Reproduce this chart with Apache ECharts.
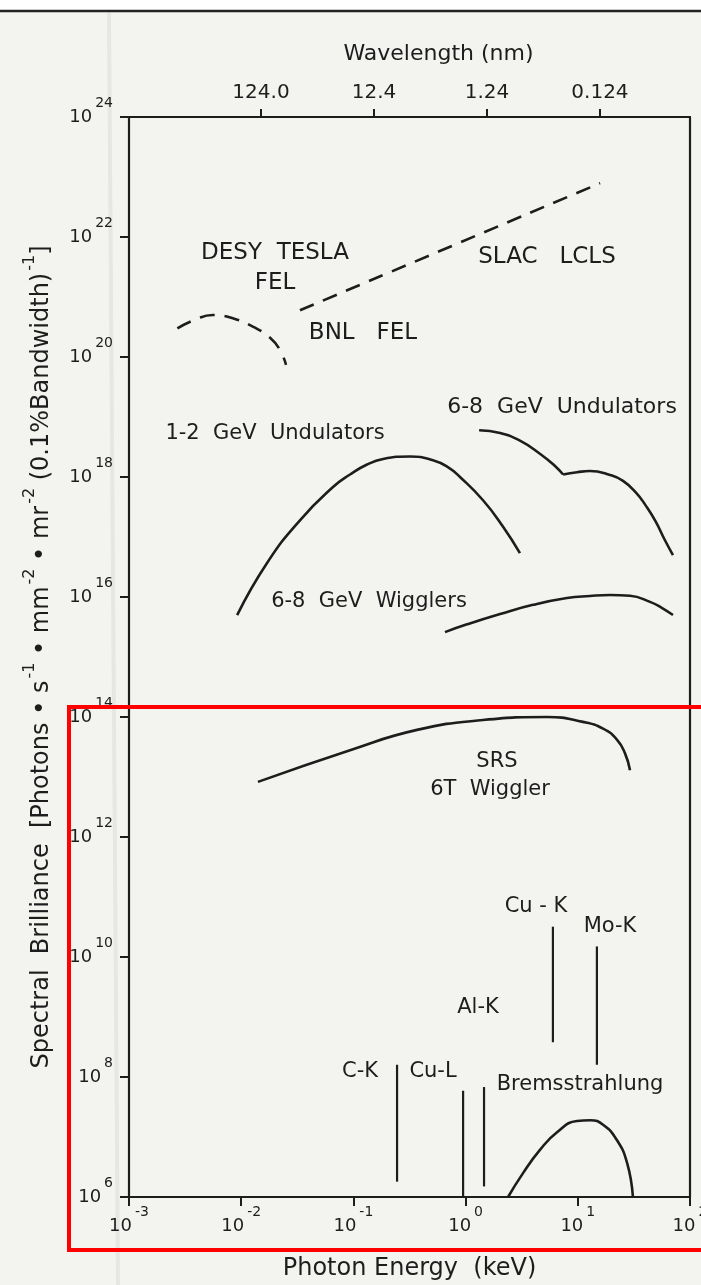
<!DOCTYPE html>
<html>
<head>
<meta charset="utf-8">
<script src="https://cdn.jsdelivr.net/npm/echarts@6/dist/echarts.min.js"></script>
<style>
  html, body { margin: 0; padding: 0; background: #f3f4f0; }
  #chart { width: 701px; height: 1285px; }
</style>
</head>
<body>
<div id="chart"></div>
<script>
// Photon energy in keV, spectral brilliance in photons s^-1 mm^-2 mrad^-2 (0.1% bandwidth)^-1

// Free-electron lasers (dashed)
const desyTeslaEnergy     = [0.0027, 0.0039, 0.0056, 0.0088, 0.0127, 0.0181, 0.0222, 0.0251];
const desyTeslaBrilliance = [3.0e20, 4.2e20, 5.0e20, 4.3e20, 3.2e20, 2.1e20, 1.3e20, 7.4e19];

const lclsEnergy     = [0.0334, 15.8];
const lclsBrilliance = [6.0e20, 7.9e22];

// Storage ring undulators and wigglers
const und12Energy     = [0.0092, 0.0170, 0.0334, 0.0658, 0.0933, 0.131, 0.184, 0.319, 0.512, 0.70, 0.891, 1.43, 2.15, 3.05];
const und12Brilliance = [5.0e15, 3.7e16, 1.9e17, 6.8e17, 1.1e18, 1.6e18, 2.0e18, 2.2e18, 1.9e18, 1.45e18, 1.0e18, 4.1e17, 1.5e17, 5.4e16];

const und68FirstEnergy     = [1.32, 2.03, 3.08, 4.66, 6.33, 7.4];
const und68FirstBrilliance = [6.0e18, 5.4e18, 4.0e18, 2.4e18, 1.5e18, 1.1e18];
const und68ThirdEnergy     = [7.4, 9.84, 12.8, 19.4, 25.3, 33.0, 40.5, 49.5, 59.5, 70.5];
const und68ThirdBrilliance = [1.1e18, 1.2e18, 1.26e18, 1.08e18, 8.6e17, 5.5e17, 3.3e17, 1.8e17, 9.0e16, 5.0e16];

const wig68Energy     = [0.655, 1.03, 2.03, 3.99, 8.0, 12.8, 19.4, 29.2, 44.0, 56.0, 70.5];
const wig68Brilliance = [2.6e15, 3.5e15, 5.2e15, 7.4e15, 9.6e15, 1.04e16, 1.08e16, 1.05e16, 8.3e15, 6.6e15, 5.0e15];

const srsEnergy     = [0.0141, 0.0933, 0.369, 1.43, 5.31, 11.1, 16.8, 22.3, 26.3, 29.2];
const srsBrilliance = [8.3e12, 2.8e13, 6.1e13, 8.9e13, 1.0e14, 8.3e13, 6.4e13, 4.2e13, 2.5e13, 1.3e13];

// X-ray tube: bremsstrahlung continuum and characteristic lines
const bremsEnergy     = [2.39, 3.25, 4.6, 6.53, 9.84, 12.9, 16.8, 22.3, 27.5, 31.0];
const bremsBrilliance = [1.0e6, 2.5e6, 6.1e6, 1.2e7, 1.85e7, 1.9e7, 1.6e7, 8.9e6, 3.7e6, 1.0e6];

const lineNames  = ['C-K', 'Cu-L', 'Al-K', 'Cu-K', 'Mo-K'];
const lineEnergy = [0.245, 0.95, 1.46, 6.0, 14.8];
const lineLow    = [1.8e6, 1.0e6, 1.5e6, 3.8e8, 1.6e8];
const lineHigh   = [1.6e8, 5.9e7, 6.8e7, 3.2e10, 1.5e10];

// Axis ticks
const energyRange      = [0.001, 100];
const energyTicks      = [0.001, 0.01, 0.1, 1, 10, 100];
const wavelengthRange  = [0.0198, 1826];          // nm, right and left ends of the top scale
const wavelengthTicks  = [124, 12.4, 1.24, 0.124];
const wavelengthLabels = ['124.0', '12.4', '1.24', '0.124'];
const brillianceRange  = [1e6, 1e24];
const brillianceTicks  = [1e6, 1e8, 1e10, 1e12, 1e14, 1e16, 1e18, 1e20, 1e22, 1e24];

const INK = '#1d1d1d';
const FONT = '"DejaVu Sans", sans-serif';

// keep the end ticks inside the log extent despite rounding
function inside(ticks, range) {
  return ticks.map(v => v <= range[0] ? range[0] * (1 + 1e-9) : v >= range[1] ? range[1] * (1 - 1e-9) : v);
}

function pairs(xs, ys) { return xs.map((x, i) => [x, ys[i]]); }
function powerLabel(v) {
  const e = Math.round(Math.log10(v));
  return '{b|10}{s|' + e + '}';
}
const powerRich = {
  b: { fontSize: 18, fontFamily: FONT, color: INK, lineHeight: 30, verticalAlign: 'bottom' },
  s: { fontSize: 14, fontFamily: FONT, color: INK, verticalAlign: 'top', padding: [0, 0, 0, 3] }
};

function curve(name, xs, ys, dashed) {
  return {
    name, type: 'line', data: pairs(xs, ys),
    smooth: 0.5, showSymbol: false, symbol: 'none', silent: true,
    lineStyle: { color: INK, width: 2.6, type: dashed ? [15, 10] : 'solid', cap: 'butt' },
    z: 3
  };
}

const series = [
  curve('DESY TESLA FEL', desyTeslaEnergy, desyTeslaBrilliance, true),
  curve('BNL FEL / SLAC LCLS', lclsEnergy, lclsBrilliance, true),
  curve('1-2 GeV Undulators', und12Energy, und12Brilliance, false),
  curve('6-8 GeV Undulators', und68FirstEnergy, und68FirstBrilliance, false),
  curve('6-8 GeV Undulators (high energy)', und68ThirdEnergy, und68ThirdBrilliance, false),
  curve('6-8 GeV Wigglers', wig68Energy, wig68Brilliance, false),
  curve('SRS 6T Wiggler', srsEnergy, srsBrilliance, false),
  curve('Bremsstrahlung', bremsEnergy, bremsBrilliance, false)
];
lineNames.forEach((n, i) => {
  series.push({
    name: n, type: 'line', silent: true, showSymbol: false, symbol: 'none',
    data: [[lineEnergy[i], lineLow[i]], [lineEnergy[i], lineHigh[i]]],
    lineStyle: { color: INK, width: 2.2 }, z: 3
  });
});

// Curve annotations, placed in chart pixels: [text, x, y, font size]
const notes = [
  ['DESY  TESLA', 275, 253, 23], ['FEL', 275, 283, 23], ['BNL   FEL', 363, 333, 23],
  ['SLAC   LCLS', 547, 257, 23], ['6-8  GeV  Undulators', 562, 407, 22],
  ['1-2  GeV  Undulators', 275, 434, 21], ['6-8  GeV  Wigglers', 369, 602, 21],
  ['SRS', 497, 762, 21], ['6T  Wiggler', 490, 790, 21],
  ['Cu - K', 536, 907, 21], ['Mo-K', 610, 927, 21], ['Al-K', 478, 1008, 21],
  ['C-K', 360, 1072, 21], ['Cu-L', 433, 1072, 21], ['Bremsstrahlung', 580, 1085, 21]
];

const graphic = [
  { type: 'rect', silent: true, z: 0, shape: { x: 0, y: 0, width: 701, height: 10 }, style: { fill: '#ffffff' } },
  { type: 'line', silent: true, z: 0, shape: { x1: 0, y1: 11, x2: 701, y2: 11 }, style: { stroke: '#222222', lineWidth: 2.5 } },
  // faint fold streak in the paper
  { type: 'line', silent: true, z: 0, shape: { x1: 109, y1: 12, x2: 118, y2: 1285 },
    style: { stroke: 'rgba(140,140,130,0.12)', lineWidth: 4 } },
  { type: 'rect', silent: true, z: 100, shape: { x: 69, y: 707, width: 650, height: 543 },
    style: { fill: 'none', stroke: '#ff0000', lineWidth: 4 } }
];
notes.forEach(([t, x, y, fs]) => graphic.push({
  type: 'text', silent: true, x, y, z: 10,
  style: { text: t, font: fs + 'px ' + FONT, fill: INK, align: 'center', verticalAlign: 'middle',
           textAlign: 'center', textVerticalAlign: 'middle' }
}));

const xTicks = inside(energyTicks, energyRange);
const yTicks = inside(brillianceTicks, brillianceRange);

const chart = echarts.init(document.getElementById('chart'), null, { renderer: 'canvas' });
chart.setOption({
  animation: false,
  backgroundColor: '#f3f4f0',
  grid: { left: 129, top: 117, width: 561, height: 1080, containLabel: false, outerBoundsMode: 'none' },
  xAxis: [
    {
      type: 'log', logBase: 10, min: energyRange[0], max: energyRange[1], position: 'bottom',
      axisLine: { lineStyle: { color: INK, width: 2.2 } },
      axisTick: { show: true, length: 9, lineStyle: { color: INK, width: 2 }, customValues: xTicks },
      minorTick: { show: false }, splitLine: { show: false }, minorSplitLine: { show: false },
      axisLabel: { customValues: xTicks, formatter: powerLabel, rich: powerRich, margin: 8, color: INK,
                   showMinLabel: true, showMaxLabel: true, hideOverlap: false },
      name: 'Photon Energy  (keV)', nameLocation: 'middle', nameGap: 60,
      nameTextStyle: { fontFamily: FONT, fontSize: 24, color: INK }
    },
    {
      type: 'log', logBase: 10, inverse: true, min: wavelengthRange[0], max: wavelengthRange[1], position: 'top',
      axisLine: { lineStyle: { color: INK, width: 2.2 } },
      axisTick: { show: true, length: 8, lineStyle: { color: INK, width: 2 }, customValues: wavelengthTicks },
      minorTick: { show: false }, splitLine: { show: false },
      axisLabel: {
        customValues: wavelengthTicks, margin: 14, color: INK, fontFamily: FONT, fontSize: 20,
        showMinLabel: true, showMaxLabel: true, hideOverlap: false,
        formatter: v => {
          const i = wavelengthTicks.findIndex(t => Math.abs(Math.log10(t) - Math.log10(v)) < 1e-6);
          return i >= 0 ? wavelengthLabels[i] : '';
        }
      },
      name: 'Wavelength (nm)', nameLocation: 'middle', nameGap: 52,
      nameTextStyle: { fontFamily: FONT, fontSize: 22, color: INK, padding: [0, 0, 0, 58] }
    }
  ],
  yAxis: [
    {
      type: 'log', logBase: 10, min: brillianceRange[0], max: brillianceRange[1], position: 'left',
      axisLine: { lineStyle: { color: INK, width: 2.2 } },
      axisTick: { show: true, length: 9, lineStyle: { color: INK, width: 2 }, customValues: yTicks },
      minorTick: { show: false }, splitLine: { show: false }, minorSplitLine: { show: false },
      axisLabel: { customValues: yTicks, formatter: powerLabel, rich: powerRich, margin: 16,
                   padding: [0, 0, 12, 0], color: INK, showMinLabel: true, showMaxLabel: true, hideOverlap: false },
      name: '{n|Spectral  Brilliance  [Photons • s}{u|-1}{n| • mm}{u|-2}{n| • mr}{u|-2}{n| (0.1%Bandwidth)}{u|-1}{n|]}',
      nameLocation: 'middle', nameRotate: 90, nameGap: 75,
      nameTextStyle: {
        color: INK,
        rich: {
          n: { fontFamily: FONT, fontSize: 24, color: INK, lineHeight: 32, verticalAlign: 'bottom' },
          u: { fontFamily: FONT, fontSize: 16, color: INK, verticalAlign: 'top', padding: [0, 0, 0, 2] }
        }
      }
    },
    {
      type: 'log', logBase: 10, min: brillianceRange[0], max: brillianceRange[1], position: 'right',
      axisLine: { show: true, lineStyle: { color: INK, width: 2.2 } },
      axisTick: { show: false }, axisLabel: { show: false },
      minorTick: { show: false }, splitLine: { show: false }
    }
  ],
  series,
  graphic
});
</script>
</body>
</html>
